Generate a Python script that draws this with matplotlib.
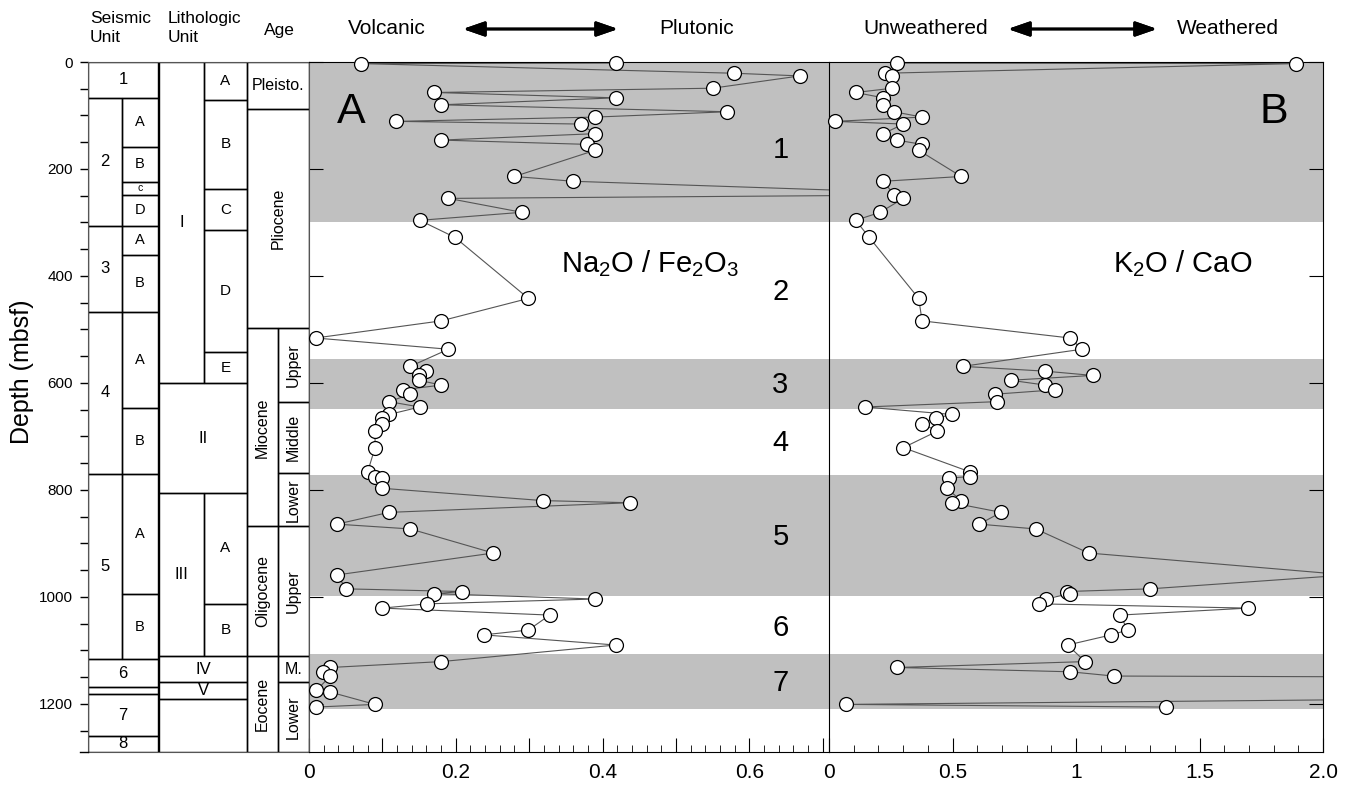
import matplotlib.pyplot as plt
import numpy as np
from matplotlib.patches import Rectangle
from matplotlib.ticker import FixedLocator, MultipleLocator, FixedFormatter

plt.rcParams['font.family'] = ['Liberation Sans', 'DejaVu Sans']
plt.rcParams['mathtext.fontset'] = 'custom'
plt.rcParams['mathtext.rm'] = 'Liberation Sans'
plt.rcParams['mathtext.it'] = 'Liberation Sans:italic'
plt.rcParams['mathtext.bf'] = 'Liberation Sans:bold'

# sample depths (mbsf) and ratios
depth = [2, 3, 21, 26, 49, 57, 67, 80, 93, 103, 111, 116, 134, 146, 154, 165,
         214, 223, 248, 255, 281, 296, 328, 442, 484, 516, 537, 569, 578, 586,
         595, 604, 613, 621, 635, 645, 659, 666, 676, 690, 721, 766, 775, 778,
         797, 820, 824, 842, 864, 873, 918, 959, 985, 990, 994, 1004, 1013,
         1021, 1034, 1062, 1071, 1090, 1121, 1132, 1140, 1148, 1175, 1178,
         1201, 1206]
na_fe = [0.418, 0.071, 0.579, 0.669, 0.550, 0.171, 0.418, 0.180, 0.570, 0.390,
         0.119, 0.370, 0.390, 0.180, 0.379, 0.390, 0.280, 0.360, 0.90, 0.190,
         0.290, 0.151, 0.199, 0.299, 0.180, 0.009, 0.190, 0.138, 0.160, 0.150,
         0.150, 0.180, 0.128, 0.138, 0.109, 0.151, 0.109, 0.100, 0.100, 0.090,
         0.090, 0.080, 0.090, 0.100, 0.100, 0.319, 0.437, 0.109, 0.038, 0.138,
         0.251, 0.038, 0.051, 0.209, 0.171, 0.390, 0.161, 0.100, 0.328, 0.299,
         0.238, 0.418, 0.180, 0.029, 0.019, 0.029, 0.010, 0.029, 0.090, 0.010]
k_ca = [0.274, 1.891, 0.227, 0.257, 0.257, 0.108, 0.220, 0.220, 0.263, 0.377,
        0.024, 0.301, 0.220, 0.274, 0.377, 0.363, 0.535, 0.220, 0.263, 0.301,
        0.207, 0.108, 0.163, 0.363, 0.377, 0.976, 1.024, 0.542, 0.875, 1.068,
        0.735, 0.875, 0.913, 0.673, 0.679, 0.145, 0.497, 0.432, 0.375, 0.439,
        0.301, 0.569, 0.569, 0.486, 0.477, 0.535, 0.497, 0.697, 0.608, 0.837,
        1.051, 2.10, 1.298, 0.963, 0.976, 0.877, 0.850, 1.696, 1.179, 1.209,
        1.143, 0.966, 1.037, 0.274, 0.976, 1.152, 20.0, 5.4, 0.069, 1.365]

# shaded intervals and their numbers
bands = [(0, 300), (556, 648), (772, 998), (1106, 1209)]
band_labels = ['1', '2', '3', '4', '5', '6', '7']
band_label_depth = [165, 430, 604, 713, 888, 1058, 1161]

# stratigraphic columns: (label, top, bottom)
seis_units = [('1', 0, 67), ('2', 67, 306), ('3', 306, 467), ('4', 467, 770),
              ('5', 770, 1117), ('6', 1117, 1169), ('', 1169, 1182),
              ('7', 1182, 1260), ('8', 1260, 1290)]
seis_sub = [('A', 67, 158), ('B', 158, 224), ('c', 224, 248), ('D', 248, 306),
            ('A', 306, 360), ('B', 360, 467), ('A', 467, 646), ('B', 646, 770),
            ('A', 770, 994), ('B', 994, 1117)]
litho_units = [('I', 0, 600), ('II', 600, 806), ('III', 806, 1111),
               ('IV', 1111, 1159), ('V', 1159, 1190), ('', 1190, 1290)]
litho_sub = [('A', 0, 71), ('B', 71, 237), ('C', 237, 315), ('D', 315, 543),
             ('E', 543, 600), ('A', 806, 1013), ('B', 1013, 1111)]
epochs = [('Pleisto.', 0, 87), ('Pliocene', 87, 498), ('Miocene', 498, 868),
          ('Oligocene', 868, 1111), ('Eocene', 1111, 1290)]
epoch_sub = [('Upper', 498, 636), ('Middle', 636, 769), ('Lower', 769, 868),
             ('Upper', 868, 1111), ('M.', 1111, 1159), ('Lower', 1159, 1290)]

W, H = 1370, 786
fig = plt.figure(figsize=(13.7, 7.86), dpi=100)


def place(l, t, r, b):
    return [l / W, 1 - b / H, (r - l) / W, (b - t) / H]


ymax = 1290
ax_s = fig.add_axes(place(88, 62, 309, 752))
ax_a = fig.add_axes(place(309, 62, 829, 752))
ax_b = fig.add_axes(place(829, 62, 1323, 752))
for ax in (ax_s, ax_a, ax_b):
    ax.set_ylim(ymax, 0)

# ---- stratigraphic column (x in pixel units) ----
ax_s.set_xlim(88, 309)


def cell(x0, x1, top, bot, text, fs, rot=0):
    ax_s.add_patch(Rectangle((x0, top), x1 - x0, bot - top, fill=False,
                             ec='black', lw=1))
    if text:
        ax_s.text((x0 + x1) / 2, (top + bot) / 2, text, ha='center',
                  va='center', fontsize=fs, rotation=rot)


def has_sub(top, bot, subs):
    return any(s[1] >= top and s[2] <= bot for s in subs)


for lab, t, b in seis_units:
    if has_sub(t, b, seis_sub):
        cell(88, 122, t, b, lab, 12)
    else:
        cell(88, 158, t, b, lab, 12)
for lab, t, b in seis_sub:
    cell(122, 158, t, b, lab, 7.5 if lab == 'c' else 10.5)

for lab, t, b in litho_units:
    if has_sub(t, b, litho_sub):
        cell(159, 204, t, b, lab, 12)
    else:
        cell(159, 247, t, b, lab, 12)
for lab, t, b in litho_sub:
    cell(204, 247, t, b, lab, 11)

for lab, t, b in epochs:
    if has_sub(t, b, epoch_sub):
        cell(247, 278, t, b, lab, 11.5, rot=90)
    else:
        cell(247, 309, t, b, lab, 11.5, rot=0 if lab == 'Pleisto.' else 90)
for lab, t, b in epoch_sub:
    cell(278, 309, t, b, lab, 11.5, rot=0 if lab == 'M.' else 90)

ax_s.set_xticks([])
ax_s.yaxis.set_major_locator(MultipleLocator(50))
ax_s.yaxis.set_major_formatter(
    plt.FuncFormatter(lambda v, p: '%d' % v if v % 200 == 0 else ''))
ax_s.tick_params(axis='y', direction='out', length=6, width=1, pad=5,
                 labelsize=11)
for sp in ax_s.spines.values():
    sp.set_color('#555555')
fig.add_artist(plt.Line2D([80 / W, 88 / W], [1 - 752 / H] * 2, color='black',
                          lw=1))
fig.text(22 / W, 1 - 372 / H, 'Depth (mbsf)', rotation=90, ha='center',
         va='center', fontsize=18)

# ---- data panels ----
for ax in (ax_a, ax_b):
    for t, b in bands:
        ax.axhspan(t, b, color='#c0c0c0', lw=0, zorder=0)

line_kw = dict(color='#555555', lw=0.8, zorder=2)
mark_kw = dict(ls='none', marker='o', ms=10, mfc='white', mec='black',
               mew=0.9, zorder=3, clip_on=False)

depth_arr = np.array(depth)
a_arr = np.array(na_fe)
b_arr = np.array(k_ca)

amax = 0.7086
ax_a.set_xlim(0, amax)
ax_a.plot(a_arr, depth_arr, **line_kw)
ax_a.plot(a_arr[a_arr <= amax], depth_arr[a_arr <= amax], **mark_kw)

ax_b.set_xlim(0, 2.0)
ax_b.plot(b_arr, depth_arr, **line_kw)
ax_b.plot(b_arr[b_arr <= 2.0], depth_arr[b_arr <= 2.0], **mark_kw)

ax_a.spines['right'].set_visible(False)
ax_a.spines['left'].set_color('#555555')
ax_a.xaxis.set_major_locator(FixedLocator(np.arange(0, 0.71, 0.1)))
ax_a.xaxis.set_minor_locator(MultipleLocator(0.02))
ax_a.xaxis.set_major_formatter(FixedFormatter(
    ['0', '', '0.2', '', '0.4', '', '0.6', '']))
ax_a.yaxis.set_major_locator(MultipleLocator(200))
ax_a.tick_params(axis='y', left=True, right=False, direction='in',
                 length=10, labelleft=False)

ax_b.xaxis.set_major_locator(FixedLocator([0, 0.5, 1.0, 1.5, 2.0]))
ax_b.xaxis.set_minor_locator(MultipleLocator(0.1))
ax_b.xaxis.set_major_formatter(FixedFormatter(['0', '0.5', '1', '1.5', '2.0']))
ax_b.yaxis.set_major_locator(MultipleLocator(200))
ax_b.tick_params(axis='y', left=False, right=True, direction='in',
                 length=10, labelleft=False)

for ax in (ax_a, ax_b):
    ax.tick_params(axis='x', which='major', direction='in', length=10,
                   labelsize=15, pad=8)
    ax.tick_params(axis='x', which='minor', direction='in', length=5)

for lab, d in zip(band_labels, band_label_depth):
    ax_a.text(0.6425, d, lab, ha='center', va='center', fontsize=21)

ax_a.text(0.057, 94, 'A', ha='center', va='center', fontsize=31)
ax_b.text(1.80, 94, 'B', ha='center', va='center', fontsize=31)
ax_a.text(0.465, 376, r'Na$_\mathregular{2}$O / Fe$_\mathregular{2}$O$_\mathregular{3}$',
          ha='center', va='center', fontsize=21)
ax_b.text(1.43, 376, r'K$_\mathregular{2}$O / CaO', ha='center', va='center',
          fontsize=21)

# ---- headers ----
fig.text(90 / W, 1 - 28 / H, 'Seismic\nUnit', ha='left', va='center',
         fontsize=12.5, linespacing=1.35)
fig.text(168 / W, 1 - 28 / H, 'Lithologic\nUnit', ha='left', va='center',
         fontsize=12.5, linespacing=1.35)
fig.text(279 / W, 1 - 30 / H, 'Age', ha='center', va='center', fontsize=12.5)

fig.text(387 / W, 1 - 28 / H, 'Volcanic', ha='center', va='center',
         fontsize=15)
fig.text(697 / W, 1 - 28 / H, 'Plutonic', ha='center', va='center',
         fontsize=15)
fig.text(926 / W, 1 - 28 / H, 'Unweathered', ha='center', va='center',
         fontsize=15)
fig.text(1228 / W, 1 - 28 / H, 'Weathered', ha='center', va='center',
         fontsize=15)
for x0, x1 in [(463, 618), (1008, 1157)]:
    fig.add_artist(plt.annotate(
        '', xy=(x1 / W, 1 - 29 / H), xytext=(x0 / W, 1 - 29 / H),
        xycoords='figure fraction', textcoords='figure fraction',
        arrowprops=dict(arrowstyle='<|-|>,head_length=1.3,head_width=0.45',
                        color='black', lw=2, shrinkA=0, shrinkB=0)))

fig.savefig('out.png', dpi=100)
